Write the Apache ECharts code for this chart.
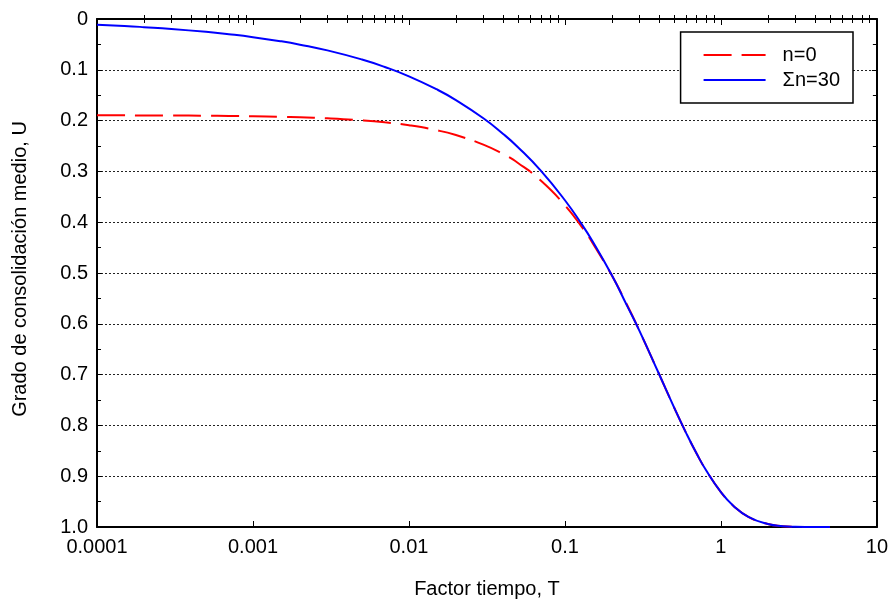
<html>

<head>
    <meta charset="utf-8">
    <script src="https://cdnjs.cloudflare.com/ajax/libs/echarts/6.0.0/echarts.min.js"></script>
    <style>
        html, body { margin: 0; padding: 0; background: #fff; }
    </style>
</head>

<body>
    <div id="main" style="width: 891px;height:606px;"></div>

    <script>
        // factor tiempo T (eje log)
        var tValues = [0.0001, 0.00015, 0.0002, 0.0003, 0.0005, 0.0007, 0.001, 0.0015, 0.002, 0.003,
            0.005, 0.007, 0.01, 0.015, 0.02, 0.03, 0.04, 0.05, 0.07, 0.1, 0.13, 0.15, 0.2, 0.25,
            0.3, 0.4, 0.5, 0.6, 0.7, 0.8, 1.0, 1.2, 1.5, 2, 2.5, 3, 4, 5];
        // grado de consolidacion medio U, suma de 30 terminos
        var uSum30 = [0.0113, 0.0138, 0.0160, 0.0195, 0.0252, 0.0299, 0.0357, 0.0437, 0.0505, 0.0618,
            0.0798, 0.0944, 0.1128, 0.1382, 0.1596, 0.1954, 0.2257, 0.2523, 0.2985, 0.3568, 0.4068, 0.4370, 0.5046, 0.5642,
            0.6134, 0.6979, 0.7640, 0.8156, 0.8559, 0.8874, 0.9313, 0.9580, 0.9800, 0.9942, 0.9983, 0.9995, 1.0, 1.0];
        // solo el primer termino (n=0)
        var uN0 = [0.1896, 0.1897, 0.1898, 0.1900, 0.1904, 0.1908, 0.1914, 0.1924, 0.1934, 0.1954,
            0.1994, 0.2033, 0.2092, 0.2189, 0.2285, 0.2473, 0.2656, 0.2835, 0.3180, 0.3667, 0.4119, 0.4402, 0.5051, 0.5626,
            0.6134, 0.6979, 0.7640, 0.8156, 0.8559, 0.8874, 0.9313, 0.9580, 0.9800, 0.9942, 0.9983, 0.9995, 1.0, 1.0];

        var seriesNames = ['n=0', 'Σn=30'];
        var xTickLabels = ['0.0001', '0.001', '0.01', '0.1', '1', '10'];
        var yTickLabels = ['0', '0.1', '0.2', '0.3', '0.4', '0.5', '0.6', '0.7', '0.8', '0.9', '1.0'];
        // subdivisiones 2..9 de cada decada (log10)
        var xMinorTicks = [];
        for (var d = -4; d < 1; d++) {
            for (var m = 2; m <= 9; m++) {
                xMinorTicks.push(d + Math.log10(m));
            }
        }

        function pairs(xs, ys) {
            return xs.map(function (x, i) { return [x, ys[i]]; });
        }

        var font = "'Liberation Sans', Arial, sans-serif";
        var fs = 20;
        var black = '#000';

        var myChart = echarts.init(document.getElementById('main'));

        var logAxis = function (pos, showLabel) {
            return {
                type: 'log',
                logBase: 10,
                min: 0.0001,
                max: 10,
                position: pos,
                axisLine: { onZero: false, lineStyle: { color: black, width: 2 } },
                axisTick: { inside: true, length: 6, lineStyle: { color: black, width: 1 } },
                axisLabel: {
                    show: showLabel,
                    color: black,
                    fontSize: fs,
                    fontFamily: font,
                    margin: 10,
                    formatter: function (v, i) { return xTickLabels[i]; }
                },
                splitLine: { show: false }
            };
        };
        var minorAxis = function (pos) {
            return {
                type: 'value',
                min: -4,
                max: 1,
                position: pos,
                axisLine: { show: false },
                axisTick: { inside: true, length: 4, customValues: xMinorTicks, lineStyle: { color: black, width: 1 } },
                axisLabel: { show: false },
                splitLine: { show: false }
            };
        };
        var yAxisDef = function (pos, showLabel) {
            return {
                type: 'value',
                inverse: true,
                min: 0,
                max: 1,
                interval: 0.1,
                position: pos,
                axisLine: { onZero: false, lineStyle: { color: black, width: 2 } },
                axisTick: { inside: true, length: 5, lineStyle: { color: black, width: 1 } },
                minorTick: { show: true, splitNumber: 2, length: 4, lineStyle: { color: black, width: 1 } },
                axisLabel: {
                    show: showLabel,
                    color: black,
                    fontSize: fs,
                    fontFamily: font,
                    margin: 9,
                    formatter: function (v, i) { return yTickLabels[i]; }
                },
                splitLine: {
                    show: showLabel,
                    lineStyle: { color: '#222', width: 1, type: [2, 2] }
                }
            };
        };

        var xMain = logAxis('bottom', true);
        xMain.name = 'Factor tiempo, T';
        xMain.nameLocation = 'middle';
        xMain.nameGap = 52;
        xMain.nameTextStyle = { color: black, fontSize: fs, fontFamily: font };

        var yMain = yAxisDef('left', true);
        yMain.name = 'Grado de consolidación medio, U';
        yMain.nameLocation = 'middle';
        yMain.nameGap = 67;
        yMain.nameTextStyle = { color: black, fontSize: fs, fontFamily: font, padding: [0, 0, 0, 8] };

        var option = {
            backgroundColor: '#fff',
            animation: false,
            grid: { left: 97, right: 13, top: 19, bottom: 79, containLabel: false },
            legend: {
                orient: 'vertical',
                right: 38,
                top: 32,
                itemWidth: 62,
                itemHeight: 14,
                itemGap: 5,
                padding: [13, 13, 13, 22],
                borderColor: black,
                borderWidth: 1.5,
                backgroundColor: '#fff',
                itemStyle: { opacity: 0 },
                textStyle: { color: black, fontSize: fs, fontFamily: font, padding: [0, 0, 0, 12] },
                data: seriesNames
            },
            xAxis: [xMain, logAxis('top', false), minorAxis('bottom'), minorAxis('top')],
            yAxis: [yMain, yAxisDef('right', false)],
            series: [{
                name: seriesNames[0],
                type: 'line',
                xAxisIndex: 0,
                yAxisIndex: 0,
                data: pairs(tValues, uN0),
                smooth: true,
                symbol: 'none',
                lineStyle: { color: '#ff0000', width: 2, type: [28, 10] },
                itemStyle: { color: '#ff0000' },
                z: 2
            }, {
                name: seriesNames[1],
                type: 'line',
                xAxisIndex: 0,
                yAxisIndex: 0,
                data: pairs(tValues, uSum30),
                smooth: true,
                symbol: 'none',
                lineStyle: { color: '#0000ff', width: 2 },
                itemStyle: { color: '#0000ff' },
                z: 3
            }]
        };
        myChart.setOption(option);
    </script>
</body>

</html>
